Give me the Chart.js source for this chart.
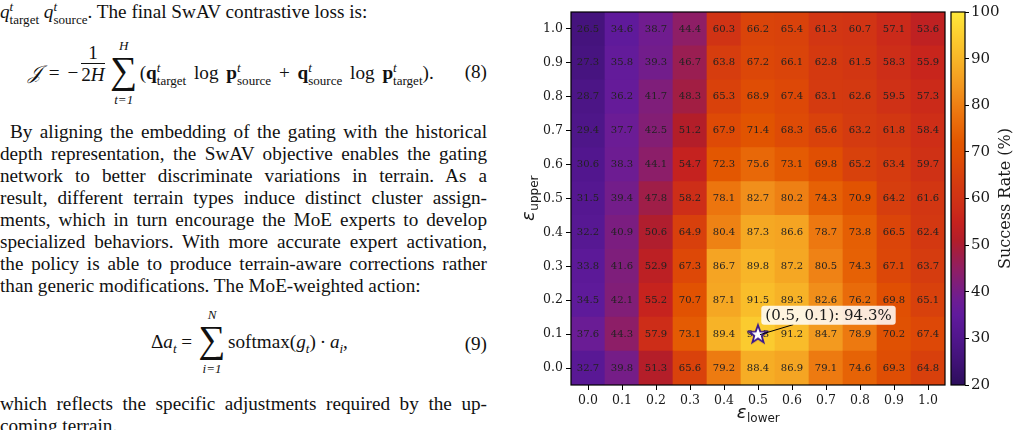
<!DOCTYPE html>
<html>
<head>
<meta charset="utf-8">
<script src="https://cdn.jsdelivr.net/npm/chart.js@4.4.1/dist/chart.umd.min.js"></script>
<style>
  body { margin:0; width:1019px; height:430px; overflow:hidden; background:#fff; position:relative; }
  .page { position:absolute; left:0; top:0; width:490px; height:430px; font-family:"Liberation Serif","Times New Roman",serif; font-size:19.2px; color:#111; }
  .ln { position:absolute; left:0; width:487px; height:22px; line-height:22px; text-align:justify; text-align-last:justify; overflow:visible; }
  .ln.par { text-indent:10px; }
  .ln.end { text-align:left; text-align-last:left; }
  .ss { display:inline-block; vertical-align:-0.45em; font-size:0.68em; line-height:0.95; text-indent:0; }
  .ss > span { display:block; }
  .eq { position:absolute; white-space:nowrap; line-height:22px; }
  .eq8 { word-spacing:3px; }
  .frac { display:inline-block; vertical-align:middle; text-align:center; margin:0 4px 0 3px; }
  .frac span { display:block; line-height:21px; }
  .frac .num { border-bottom:1px solid #111; padding:0 1px; }
  .sum { display:inline-block; position:relative; width:28px; height:26px; vertical-align:-6px; margin:0 2px 0 1px; }
  .sum .big { position:absolute; left:-4px; right:-4px; top:-6px; text-align:center; font-size:38px; line-height:34px; }
  .sum .lim { position:absolute; left:-10px; right:-10px; text-align:center; font-size:13px; line-height:13px; font-style:italic; word-spacing:0; }
  .sum .up { top:-20px; }
  .sum .dn { bottom:-21px; }
  .eq sub { font-size:0.68em; }
  .eqno { position:absolute; right:3px; line-height:22px; }
  #heatBox { position:absolute; left:500px; top:0; width:450px; height:430px; }
  #cbarBox { position:absolute; left:945px; top:0; width:74px; height:430px; }
</style>
</head>
<body>
<div class="page">
  <div class="ln end" style="top:1px"><i>q</i><span class="ss"><span><i>t</i></span><span>target</span></span> <i>q</i><span class="ss"><span><i>t</i></span><span>source</span></span>. The final SwAV contrastive loss is:</div>

  <div class="eq eq8" style="left:28px; top:42px;"><i>𝒥</i> = −<span class="frac" style="vertical-align:-2px"><span class="num">1</span><span class="den">2<i>H</i></span></span><span class="sum"><span class="lim up">H</span><span class="big">∑</span><span class="lim dn">t=1</span></span>(<b>q</b><span class="ss"><span><i>t</i></span><span>target</span></span> log <b>p</b><span class="ss"><span><i>t</i></span><span>source</span></span> + <b>q</b><span class="ss"><span><i>t</i></span><span>source</span></span> log <b>p</b><span class="ss"><span><i>t</i></span><span>target</span></span>).</div>
  <div class="eqno" style="top:61px">(8)</div>

  <div class="ln par" style="top:121px">By aligning the embedding of the gating with the historical</div>
  <div class="ln" style="top:143px">depth representation, the SwAV objective enables the gating</div>
  <div class="ln" style="top:165px">network to better discriminate variations in terrain. As a</div>
  <div class="ln" style="top:187px">result, different terrain types induce distinct cluster assign-</div>
  <div class="ln" style="top:209px">ments, which in turn encourage the MoE experts to develop</div>
  <div class="ln" style="top:231px">specialized behaviors. With more accurate expert activation,</div>
  <div class="ln" style="top:253px">the policy is able to produce terrain-aware corrections rather</div>
  <div class="ln end" style="top:275px">than generic modifications. The MoE-weighted action:</div>

  <div class="eq" style="left:151px; top:328px;">Δ<i>a<sub>t</sub></i> = <span class="sum"><span class="lim up">N</span><span class="big">∑</span><span class="lim dn">i=1</span></span>softmax(<i>g<sub>t</sub></i>)&thinsp;·&thinsp;<i>a<sub>i</sub></i>,</div>
  <div class="eqno" style="top:333px">(9)</div>

  <div class="ln" style="top:393px">which reflects the specific adjustments required by the up-</div>
  <div class="ln end" style="top:415px">coming terrain.</div>
</div>

<div id="heatBox"><canvas id="heat"></canvas></div>
<div id="cbarBox"><canvas id="cbar"></canvas></div>

<script>
// keep every text line on one line
document.querySelectorAll('.ln').forEach(el => {
  let ls = 0;
  while (el.scrollHeight > 30 && ls > -1.5) {
    ls -= 0.05;
    el.style.letterSpacing = ls + 'px';
  }
});

// axis tick labels
const lowerTicks = ['0.0', '0.1', '0.2', '0.3', '0.4', '0.5', '0.6', '0.7', '0.8', '0.9', '1.0'];
const upperTicks = ['0.0', '0.1', '0.2', '0.3', '0.4', '0.5', '0.6', '0.7', '0.8', '0.9', '1.0'];

// success rate (%) for each eps_upper row, columns go eps_lower 0.0 -> 1.0
const up00 = [32.7, 39.8, 51.3, 65.6, 79.2, 88.4, 86.9, 79.1, 74.6, 69.3, 64.8];
const up01 = [37.6, 44.3, 57.9, 73.1, 89.4, 94.3, 91.2, 84.7, 78.9, 70.2, 67.4];
const up02 = [34.5, 42.1, 55.2, 70.7, 87.1, 91.5, 89.3, 82.6, 76.2, 69.8, 65.1];
const up03 = [33.8, 41.6, 52.9, 67.3, 86.7, 89.8, 87.2, 80.5, 74.3, 67.1, 63.7];
const up04 = [32.2, 40.9, 50.6, 64.9, 80.4, 87.3, 86.6, 78.7, 73.8, 66.5, 62.4];
const up05 = [31.5, 39.4, 47.8, 58.2, 78.1, 82.7, 80.2, 74.3, 70.9, 64.2, 61.6];
const up06 = [30.6, 38.3, 44.1, 54.7, 72.3, 75.6, 73.1, 69.8, 65.2, 63.4, 59.7];
const up07 = [29.4, 37.7, 42.5, 51.2, 67.9, 71.4, 68.3, 65.6, 63.2, 61.8, 58.4];
const up08 = [28.7, 36.2, 41.7, 48.3, 65.3, 68.9, 67.4, 63.1, 62.6, 59.5, 57.3];
const up09 = [27.3, 35.8, 39.3, 46.7, 63.8, 67.2, 66.1, 62.8, 61.5, 58.3, 55.9];
const up10 = [26.5, 34.6, 38.7, 44.4, 60.3, 66.2, 65.4, 61.3, 60.7, 57.1, 53.6];
const rows = [up00, up01, up02, up03, up04, up05, up06, up07, up08, up09, up10];

// colorbar range
const rateMin = 20;
const rateMax = 100;

// colormap stops (value, r, g, b)
const cmapStops = [
  [20, 44, 14, 92],
  [25, 64, 18, 118],
  [30, 80, 22, 140],
  [35, 96, 26, 156],
  [38, 108, 28, 148],
  [42, 128, 30, 120],
  [45, 145, 30, 98],
  [48, 160, 30, 70],
  [51, 178, 30, 42],
  [55, 198, 34, 30],
  [58, 205, 45, 24],
  [63, 212, 58, 16],
  [68, 222, 74, 6],
  [72, 226, 86, 0],
  [78, 236, 116, 14],
  [84, 242, 150, 30],
  [90, 248, 182, 40],
  [95, 252, 206, 48],
  [100, 254, 232, 58]
];

const rateColor = v => {
  for (let i = 1; i < cmapStops.length; i++) {
    const a = cmapStops[i - 1], b = cmapStops[i];
    if (v <= b[0] || i === cmapStops.length - 1) {
      const t = Math.max(0, Math.min(1, (v - a[0]) / (b[0] - a[0])));
      const c = [1, 2, 3].map(k => Math.round(a[k] + (b[k] - a[k]) * t));
      return `rgb(${c[0]},${c[1]},${c[2]})`;
    }
  }
};

// best cell
let bestR = 0, bestC = 0;
rows.forEach((vals, r) => vals.forEach((v, c) => {
  if (v > rows[bestR][bestC]) { bestR = r; bestC = c; }
}));

// star marker
const starImg = document.createElement('canvas');
starImg.width = 24; starImg.height = 24;
(() => {
  const g = starImg.getContext('2d');
  g.beginPath();
  for (let i = 0; i < 10; i++) {
    const rad = i % 2 === 0 ? 9.5 : 3.9;
    const ang = -Math.PI / 2 + i * Math.PI / 5;
    const px = 12 + rad * Math.cos(ang), py = 12.5 + rad * Math.sin(ang);
    i === 0 ? g.moveTo(px, py) : g.lineTo(px, py);
  }
  g.closePath();
  g.fillStyle = '#ffffff';
  g.fill();
  g.lineWidth = 1.8;
  g.strokeStyle = '#3b1a8c';
  g.stroke();
})();

const tickFont = { family: 'DejaVu Serif', size: 12.5 };
const inkColor = '#1a1a1a';

const cellSets = rows.map((vals, r) => ({
  type: 'bar',
  data: vals.map(() => [r - 0.5, r + 0.5]),
  backgroundColor: vals.map(rateColor),
  grouped: false,
  barPercentage: 1,
  categoryPercentage: 1,
  borderWidth: 0,
  order: 1
}));

const starSet = {
  type: 'line',
  data: [{ x: lowerTicks[bestC], y: bestR }],
  showLine: false,
  pointStyle: starImg,
  order: 0
};

const heatDecor = {
  id: 'heatDecor',
  beforeDatasetDraw(chart, args) {
    if (args.index !== rows.length) return;
    const { ctx, scales: { x, y } } = chart;
    ctx.save();
    ctx.font = '10px "DejaVu Serif"';
    ctx.fillStyle = '#222';
    ctx.textAlign = 'center';
    ctx.textBaseline = 'middle';
    rows.forEach((vals, r) => vals.forEach((v, c) => {
      ctx.fillText(v.toFixed(1), x.getPixelForValue(c), y.getPixelForValue(r));
    }));
    ctx.restore();
  },
  afterDraw(chart) {
    const { ctx, chartArea: a, scales: { x, y } } = chart;
    ctx.save();
    // frame
    ctx.strokeStyle = '#000';
    ctx.lineWidth = 1.2;
    ctx.strokeRect(a.left, a.top, a.right - a.left, a.bottom - a.top);

    // axis titles
    ctx.fillStyle = inkColor;
    const drawEps = (sub, cx, cy) => {
      ctx.font = 'italic 18px "DejaVu Sans"';
      const w1 = ctx.measureText('ε').width;
      ctx.font = '12px "DejaVu Sans"';
      const w2 = ctx.measureText(sub).width;
      const x0 = cx - (w1 + w2) / 2;
      ctx.textAlign = 'left';
      ctx.textBaseline = 'alphabetic';
      ctx.font = 'italic 18px "DejaVu Sans"';
      ctx.fillText('ε', x0, cy + 5);
      ctx.font = '12px "DejaVu Sans"';
      ctx.fillText(sub, x0 + w1 + 0.5, cy + 9);
    };
    drawEps('lower', (a.left + a.right) / 2, 413);
    ctx.save();
    ctx.translate(29, (a.top + a.bottom) / 2);
    ctx.rotate(-Math.PI / 2);
    drawEps('upper', 0, 0);
    ctx.restore();

    // annotation of best cell
    const px = x.getPixelForValue(bestC), py = y.getPixelForValue(bestR);
    const label = `(${lowerTicks[bestC]}, ${upperTicks[bestR]}): ${rows[bestR][bestC].toFixed(1)}%`;
    ctx.font = '15px "DejaVu Serif"';
    const tw = ctx.measureText(label).width;
    const bx = px + 70.5, by = py - 19;
    const bw = tw + 8, bh = 19;
    // leader line from box edge to the star
    const t = (bh / 2) / (py - by);
    ctx.beginPath();
    ctx.moveTo(bx + (px - bx) * t, by + bh / 2);
    ctx.lineTo(px + 2, py + 0.5);
    ctx.strokeStyle = '#000';
    ctx.lineWidth = 1;
    ctx.stroke();
    ctx.beginPath();
    ctx.roundRect(bx - bw / 2, by - bh / 2, bw, bh, 3);
    ctx.fillStyle = 'rgba(255,255,255,0.85)';
    ctx.fill();
    ctx.fillStyle = inkColor;
    ctx.textAlign = 'center';
    ctx.textBaseline = 'middle';
    ctx.fillText(label, bx, by + 0.5);
    ctx.restore();
  }
};

new Chart(document.getElementById('heat'), {
  type: 'bar',
  data: { labels: lowerTicks, datasets: [...cellSets, starSet] },
  options: {
    responsive: true,
    maintainAspectRatio: false,
    animation: false,
    layout: { padding: { top: 12, right: 5, left: 0, bottom: 0 } },
    plugins: { legend: { display: false }, tooltip: { enabled: false } },
    scales: {
      x: {
        offset: true,
        grid: { display: true, drawOnChartArea: false, offset: false, tickLength: 5, color: '#000' },
        border: { display: false },
        ticks: { font: tickFont, color: inkColor, padding: 3, maxRotation: 0 },
        afterFit(s) { s.height = 45; }
      },
      y: {
        min: -0.5,
        max: rows.length - 0.5,
        grid: { display: true, drawOnChartArea: false, tickLength: 5, color: '#000' },
        border: { display: false },
        afterBuildTicks(s) { s.ticks = upperTicks.map((_, i) => ({ value: i })); },
        ticks: { font: tickFont, color: inkColor, padding: 3, callback: v => upperTicks[v] },
        afterFit(s) { s.width = 71; }
      }
    }
  },
  plugins: [heatDecor]
});

// colorbar
const cbarDecor = {
  id: 'cbarDecor',
  afterDraw(chart) {
    const { ctx, chartArea: a } = chart;
    ctx.save();
    ctx.strokeStyle = '#000';
    ctx.lineWidth = 1.2;
    ctx.strokeRect(a.left, a.top, a.right - a.left, a.bottom - a.top);
    ctx.translate(61, (a.top + a.bottom) / 2);
    ctx.rotate(-Math.PI / 2);
    ctx.font = '16px "DejaVu Serif"';
    ctx.fillStyle = inkColor;
    ctx.textAlign = 'center';
    ctx.textBaseline = 'middle';
    ctx.fillText('Success Rate (%)', 0, 0);
    ctx.restore();
  }
};

new Chart(document.getElementById('cbar'), {
  type: 'bar',
  data: {
    labels: [''],
    datasets: [{
      data: [[rateMin, rateMax]],
      backgroundColor(c) {
        const ch = c.chart;
        if (!ch.chartArea) return null;
        const ys = ch.scales.y;
        const g = ch.ctx.createLinearGradient(0, ys.getPixelForValue(rateMin), 0, ys.getPixelForValue(rateMax));
        cmapStops.forEach(s => g.addColorStop((s[0] - rateMin) / (rateMax - rateMin), `rgb(${s[1]},${s[2]},${s[3]})`));
        return g;
      },
      barPercentage: 1,
      categoryPercentage: 1,
      borderWidth: 0
    }]
  },
  options: {
    responsive: true,
    maintainAspectRatio: false,
    animation: false,
    layout: { padding: { top: 12, right: 0, left: 6, bottom: 45 } },
    plugins: { legend: { display: false }, tooltip: { enabled: false } },
    scales: {
      x: { display: false },
      y: {
        position: 'right',
        min: rateMin,
        max: rateMax,
        grid: { display: true, drawOnChartArea: false, tickLength: 4, color: '#000' },
        border: { display: false },
        ticks: { stepSize: 10, font: { family: 'DejaVu Serif', size: 15 }, color: inkColor, padding: 2 },
        afterFit(s) { s.width = 54; }
      }
    }
  },
  plugins: [cbarDecor]
});
</script>
</body>
</html>
